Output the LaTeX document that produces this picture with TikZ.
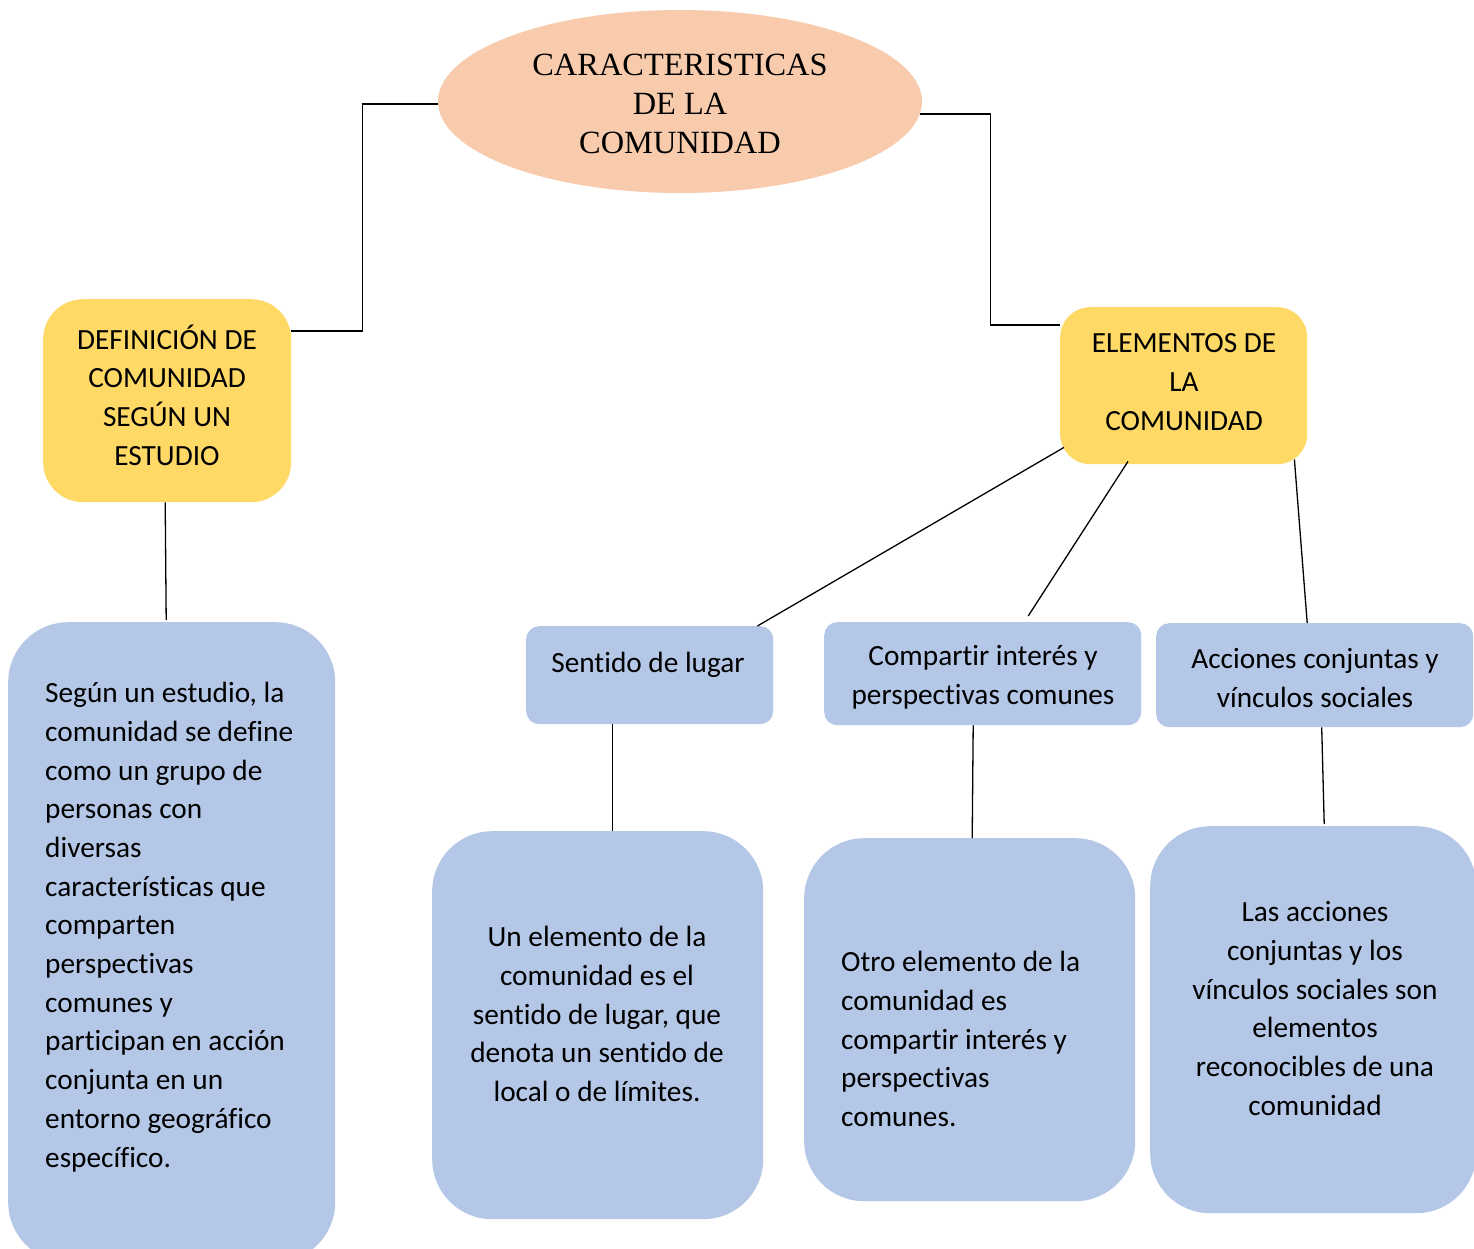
\documentclass[tikz,border=0pt]{standalone}
\usepackage{fontspec}
\setmainfont{Carlito}[Ligatures={NoCommon}]
\newfontfamily\titlefont{Liberation Serif}
\usetikzlibrary{shapes.geometric,calc}
\definecolor{yelc}{HTML}{FFD966}
\definecolor{bluec}{HTML}{B4C7E7}
\definecolor{peachc}{HTML}{F8CBAD}
\begin{document}
\begin{tikzpicture}[x=1pt,y=-1pt,
  conn/.style={draw=black, line width=1.3pt},
  ybox/.style={rectangle, fill=yelc, draw=none, inner sep=0pt, anchor=north west},
  bbox/.style={rectangle, fill=bluec, draw=none, inner sep=0pt, anchor=north west},
  txt/.style={inner sep=0pt, align=center, font=\fontsize{29.3}{38.7}\selectfont},
  ltxt/.style={inner sep=0pt, align=left, anchor=west, font=\fontsize{29.3}{38.7}\selectfont}]
\useasboundingbox (0,0) rectangle (1474,1249);
\fill[white] (0,0) rectangle (1474,1249);

% title ellipse
\node[ellipse, fill=peachc, inner sep=0pt, minimum width=484pt, minimum height=183pt] (title) at (680,101.5) {};
\node[inner sep=0pt, align=center, font=\titlefont\fontsize{32.4}{38.6}\selectfont] (titletxt) at (680,104) {CARACTERISTICAS\\DE LA\\COMUNIDAD};

% yellow boxes
\node[ybox, minimum width=248pt, minimum height=203pt, rounded corners=40pt] (def) at (43,299) {};
\node[txt] (deftxt) at (167,395) {DEFINICIÓN DE\\COMUNIDAD\\SEGÚN UN\\ESTUDIO};
\node[ybox, minimum width=247pt, minimum height=157pt, rounded corners=30pt] (elem) at (1060,307) {};
\node[txt] (elemtxt) at (1184,382) {ELEMENTOS DE\\LA\\COMUNIDAD};

% small blue boxes
\node[bbox, minimum width=247pt, minimum height=98pt, rounded corners=13pt] (sent) at (526,626) {};
\node[txt] (senttxt) at (648,665) {Sentido de lugar};
\node[bbox, minimum width=317pt, minimum height=103pt, rounded corners=13pt] (comp) at (824,622) {};
\node[txt] (comptxt) at (983,677) {Compartir interés y\\perspectivas comunes};
\node[bbox, minimum width=317pt, minimum height=104pt, rounded corners=13pt] (acc) at (1156,623) {};
\node[txt] (acctxt) at (1315,678) {Acciones conjuntas y\\vínculos sociales};

% large blue boxes
\node[bbox, minimum width=327pt, minimum height=640pt, rounded corners=60pt] (bigl) at (8,622) {};
\node[ltxt] (bigltxt) at (45,927) {Según un estudio, la\\comunidad se define\\como un grupo de\\personas con\\diversas\\características que\\comparten\\perspectivas\\comunes y\\participan en acción\\conjunta en un\\entorno geográfico\\específico.};
\node[bbox, minimum width=331pt, minimum height=388pt, rounded corners=60pt] (box2) at (432,831) {};
\node[txt] (box2txt) at (597,1014) {Un elemento de la\\comunidad es el\\sentido de lugar, que\\denota un sentido de\\local o de límites.};
\node[bbox, minimum width=331pt, minimum height=363pt, rounded corners=60pt] (box3) at (804,838) {};
\node[ltxt] (box3txt) at (841,1039) {Otro elemento de la\\comunidad es\\compartir interés y\\perspectivas\\comunes.};
\node[bbox, minimum width=326pt, minimum height=387pt, rounded corners=60pt] (box4) at (1150,826) {};
\node[txt] (box4txt) at (1315,1008.5) {Las acciones\\conjuntas y los\\vínculos sociales son\\elementos\\reconocibles de una\\comunidad};

% connectors
\draw[conn] ($(title.west)+(0,2.5)$) -- ++(-75,0) |- ($(def.north east)+(0,32)$);
\draw[conn] ($(title.east)+(-2,12.5)$) -- ++(70,0) |- ($(elem.north west)+(0,18)$);
\draw[conn] ($(def.south)+(-2,0)$) -- ($(bigl.north)+(-5.5,-2)$);
\draw[conn] ($(elem.south west)+(4,-17)$) -- ($(sent.north east)+(-16,0)$);
\draw[conn] ($(elem.south west)+(68,-3)$) -- ($(comp.north)+(45.5,-6)$);
\draw[conn] ($(elem.south east)+(-13,-5)$) -- ($(acc.north)+(-7.5,0)$);
\draw[conn] ($(sent.south)+(-37.5,0)$) -- ($(box2.north)+(14.5,0)$);
\draw[conn] ($(comp.south)+(-9.5,0)$) -- ($(box3.north)+(2.5,0)$);
\draw[conn] ($(acc.south)+(7,0)$) -- ($(box4.north)+(11,-2)$);
\end{tikzpicture}
\end{document}
